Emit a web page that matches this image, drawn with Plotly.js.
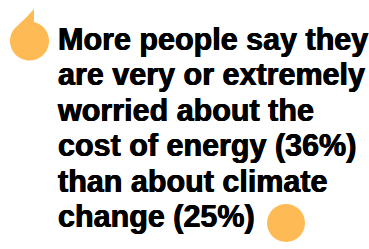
<!DOCTYPE html>
<html><head><meta charset="utf-8">
<script src="https://cdn.plot.ly/plotly-3.0.1.min.js"></script>
<style>body{margin:0;background:#fff}</style>
</head><body><div id="c" style="width:369px;height:249px"></div>
<script>
// Headline text, one entry per line
const lines = [
  "More people say they",
  "are very or extremely",
  "worried about the",
  "cost of energy (36%)",
  "than about climate",
  "change (25%)"
];
// Share very/extremely worried (%)
const topics = ["cost of energy", "climate change"];
const worried = [36, 25];

const W = 369, H = 249;
const accent = "#FEBB55";
const textX = 58, firstBase = 53, lineStep = 35.4, fs = 30.5;

const ys = lines.map((_, i) => firstBase + i * lineStep - 0.35 * fs);
const xs = lines.map(() => textX);

function teardrop(cx, cy, r, tipX, tipY, endDeg, ctrlX, ctrlY) {
  const startDeg = -Math.acos((tipX - cx) / r) * 180 / Math.PI;
  let p = `M${tipX},${tipY} L${tipX},${(cy + r * Math.sin(startDeg * Math.PI / 180)).toFixed(2)}`;
  for (let a = startDeg; a <= endDeg; a += 4) {
    const t = a * Math.PI / 180;
    p += ` L${(cx + r * Math.cos(t)).toFixed(2)},${(cy + r * Math.sin(t)).toFixed(2)}`;
  }
  const te = endDeg * Math.PI / 180;
  p += ` L${(cx + r * Math.cos(te)).toFixed(2)},${(cy + r * Math.sin(te)).toFixed(2)}`;
  p += ` Q${ctrlX},${ctrlY} ${tipX},${tipY} Z`;
  return p;
}

const data = [{
  type: "scatter", mode: "text", x: xs, y: ys, text: lines,
  textposition: "middle right", hoverinfo: "skip",
  textfont: {family: "Liberation Sans, Arial, sans-serif", size: fs, weight: 700, color: "#000",
             shadow: "0.5px 0 0 #000, -0.4px 0 0 #000"},
  showlegend: false, cliponaxis: false
}];

const layout = {
  width: W, height: H, margin: {l: 0, r: 0, t: 0, b: 0},
  paper_bgcolor: "#fff", plot_bgcolor: "#fff",
  xaxis: {range: [0, W], visible: false, fixedrange: true},
  yaxis: {range: [H, 0], visible: false, fixedrange: true},
  shapes: [
    {type: "path", xref: "x", yref: "y", path: teardrop(29.5, 41, 19.5, 34, 9, 222, 26, 18.5),
     fillcolor: accent, line: {width: 0}, layer: "below"},
    {type: "circle", xref: "x", yref: "y", x0: 267, x1: 305, y0: 204, y1: 242,
     fillcolor: accent, line: {width: 0}, layer: "below"}
  ]
};
Plotly.newPlot("c", data, layout, {displayModeBar: false, staticPlot: true});
</script></body></html>
